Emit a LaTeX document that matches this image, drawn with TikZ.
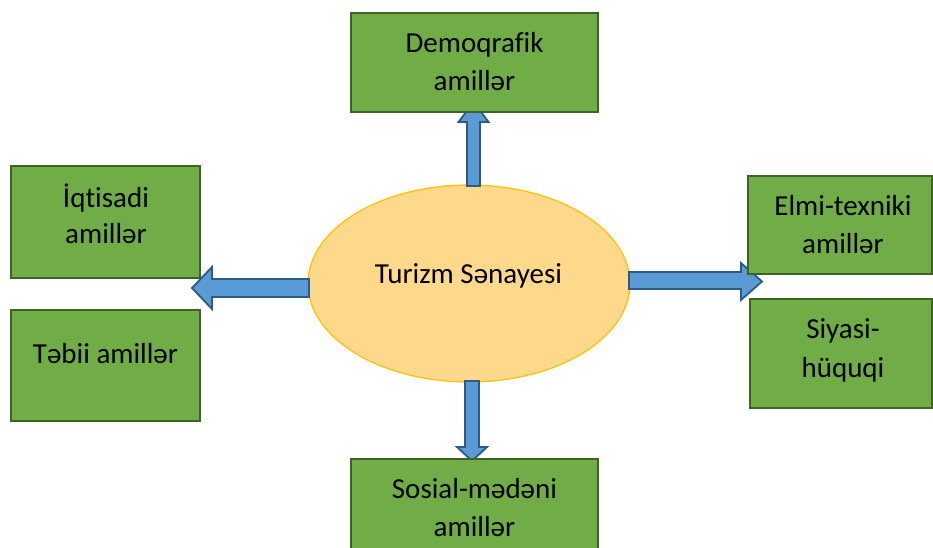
\documentclass[tikz,border=0pt]{standalone}
\usepackage{fontspec}
\usetikzlibrary{shapes.geometric}
\setmainfont{Carlito}[Ligatures={NoCommon,NoRare,NoContextual}]
\definecolor{boxfill}{HTML}{70AD47}
\definecolor{boxline}{HTML}{3F6227}
\definecolor{ellfill}{HTML}{FFD98B}
\definecolor{ellline}{HTML}{FFC000}
\definecolor{arrfill}{HTML}{5B9BD5}
\definecolor{arrline}{HTML}{2C5A86}
\begin{document}
\begin{tikzpicture}[x=1pt,y=-1pt,
  factorbox/.style={draw=boxline,fill=boxfill,line width=2.5pt},
  blockarrow/.style={draw=arrline,fill=arrfill,line width=1.8pt,line join=miter},
  lbl/.style={font=\fontsize{29}{37}\selectfont,anchor=base,inner sep=0pt,text=black}]
\useasboundingbox (0,0) rectangle (933,548);
\clip (0,0) rectangle (933,548);
% central ellipse
\node[draw=ellline,fill=ellfill,line width=1.2pt,ellipse,minimum width=322pt,minimum height=197pt,inner sep=0pt] (ell) at (469,283.5) {};
% arrows (drawn before boxes so boxes cover the tips)
\draw[blockarrow] (467,186) -- (467,122) -- (458.5,122) -- (473.5,102) -- (488.5,122) -- (480,122) -- (480,186) -- cycle;
\draw[blockarrow] (465,381) -- (465,447) -- (457,447) -- (472,461) -- (487,447) -- (479,447) -- (479,381) -- cycle;
\draw[blockarrow] (309,279) -- (212,279) -- (212,267) -- (192,288) -- (212,309) -- (212,297) -- (309,297) -- cycle;
\draw[blockarrow] (629,272) -- (741,272) -- (741,263) -- (762,281.5) -- (741,300) -- (741,289) -- (629,289) -- cycle;
% boxes
\node[factorbox,minimum width=247pt,minimum height=99pt,inner sep=0pt] (demo) at (474.5,62.5) {};
\node[factorbox,minimum width=189pt,minimum height=112pt,inner sep=0pt] (iqt) at (105.5,222) {};
\node[factorbox,minimum width=189pt,minimum height=111pt,inner sep=0pt] (tebii) at (105.5,365.5) {};
\node[factorbox,minimum width=184pt,minimum height=98pt,inner sep=0pt] (elmi) at (840,225) {};
\node[factorbox,minimum width=182pt,minimum height=109pt,inner sep=0pt] (siy) at (841,353.5) {};
\node[factorbox,minimum width=247pt,minimum height=110pt,inner sep=0pt] (sos) at (474.5,514) {};
% texts
\node[lbl] (t-ell) at (468.5,283) {Turizm Sənayesi};
\node[lbl] (t-demo1) at (474.5,53) {Demoqraf\kern0pt ik};
\node[lbl] (t-demo2) at (474.5,91) {amillər};
\node[lbl] (t-iqt1) at (106,207) {İqt\kern0pt isadi};
\node[lbl] (t-iqt2) at (106,243) {amillər};
\node[lbl] (t-tebii) at (105.5,363) {Təbii amillər};
\node[lbl] (t-elmi1) at (843,215) {Elmi-texniki};
\node[lbl] (t-elmi2) at (843,253) {amillər};
\node[lbl] (t-siy1) at (843,338) {Siyasi-};
\node[lbl] (t-siy2) at (843,377) {hüquqi};
\node[lbl] (t-sos1) at (474.5,498) {Sosial-mədəni};
\node[lbl] (t-sos2) at (474.5,536) {amillər};
\end{tikzpicture}
\end{document}
